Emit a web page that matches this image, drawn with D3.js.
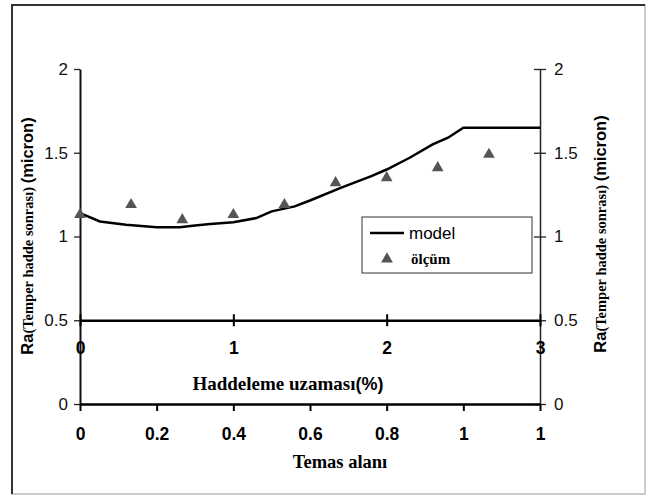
<!DOCTYPE html>
<html>
<head>
<meta charset="utf-8">
<script src="https://cdn.jsdelivr.net/npm/d3@7"></script>
<style>
  body { margin: 0; background: #fff; }
  svg { display: block; }
</style>
</head>
<body>
<div id="grafico"></div>
<script>
// model curve, x in Haddeleme uzamasi (%)
const modelX = [0, 0.13, 0.3, 0.5, 0.65, 0.75, 0.85, 1.0, 1.15, 1.25, 1.4, 1.5, 1.7, 1.9, 2.0, 2.15, 2.3, 2.4, 2.5, 3.0]
const modelY = [1.14, 1.09, 1.07, 1.055, 1.055, 1.065, 1.075, 1.085, 1.11, 1.15, 1.18, 1.215, 1.29, 1.36, 1.40, 1.47, 1.55, 1.59, 1.65, 1.65]

// measurements
const olcumX = [0, 0.333, 0.667, 1, 1.333, 1.667, 2, 2.333, 2.667]
const olcumY = [1.13, 1.19, 1.10, 1.13, 1.19, 1.32, 1.35, 1.41, 1.49]

const yTicks = [0, 0.5, 1, 1.5, 2]
const yTickLabels = ["0", "0.5", "1", "1.5", "2"]
const hadTicks = [0, 1, 2, 3]
const temasTicks = [0, 0.2, 0.4, 0.6, 0.8, 1.0, 1.2]
const temasLabels = ["0", "0.2", "0.4", "0.6", "0.8", "1", "1"]

const width = 649, height = 496
const sans = "Liberation Sans, Arial, sans-serif"
const serif = "Liberation Serif, Times New Roman, serif"

const svg = d3.select("#grafico")
  .append("svg")
    .attr("width", width)
    .attr("height", height)

// cerceve
svg.append("rect")
  .attr("x", 12).attr("y", 5)
  .attr("width", 633).attr("height", 489)
  .attr("fill", "none")
  .attr("stroke", "#bbb")
  .attr("stroke-width", 1.5)
svg.append("path")
  .attr("d", "M12,494V5H645")
  .attr("fill", "none")
  .attr("stroke", "#333")
  .attr("stroke-width", 2)

// olcekler
const y = d3.scaleLinear().domain([0, 2]).range([404, 69])
const xH = d3.scaleLinear().domain([0, 3]).range([80, 540])
const xT = d3.scaleLinear().domain([0, 1.2]).range([80, 540])

// sol eksen
const yLeft = svg.append("g")
  .attr("transform", "translate(80,0)")
  .call(d3.axisLeft(y).tickValues(yTicks).tickFormat((d, i) => yTickLabels[i]).tickSize(6).tickSizeOuter(0).tickPadding(6))
yLeft.select(".domain").attr("stroke", "#111").attr("stroke-width", 2)

// sag eksen
const yRight = svg.append("g")
  .attr("transform", "translate(540,0)")
  .call(d3.axisRight(y).tickValues(yTicks).tickFormat((d, i) => yTickLabels[i]).tickSize(6).tickSizeOuter(0).tickPadding(8))
yRight.select(".domain").attr("stroke", "#222").attr("stroke-width", 1.5)
yRight.selectAll(".tick line").attr("x1", -6)

svg.selectAll(".tick text")
  .attr("font-family", sans)
  .attr("font-size", "17px")
  .attr("fill", "#111")
svg.selectAll(".tick line").attr("stroke", "#222").attr("stroke-width", 1.3)

// Haddeleme ekseni (0.5 seviyesinde)
const xHad = svg.append("g")
  .attr("transform", `translate(0,${y(0.5)})`)
  .call(d3.axisBottom(xH).tickValues(hadTicks).tickFormat(d3.format("d")).tickSize(6).tickSizeOuter(0).tickPadding(15))
xHad.select(".domain").attr("stroke", "#000").attr("stroke-width", 2.5)
xHad.selectAll(".tick line").attr("y1", -6).attr("stroke", "#000").attr("stroke-width", 2)
xHad.selectAll(".tick text")
  .attr("font-family", sans)
  .attr("font-weight", "bold")
  .attr("font-size", "17.5px")
  .attr("fill", "#000")

// Temas ekseni
const xTem = svg.append("g")
  .attr("transform", `translate(0,${y(0)})`)
  .call(d3.axisBottom(xT).tickValues(temasTicks).tickFormat((d, i) => temasLabels[i]).tickSize(7).tickSizeOuter(0).tickPadding(17))
xTem.select(".domain").attr("stroke", "#000").attr("stroke-width", 2.5)
xTem.selectAll(".tick line").attr("stroke", "#000").attr("stroke-width", 2)
xTem.selectAll(".tick text")
  .attr("font-family", sans)
  .attr("font-weight", "bold")
  .attr("font-size", "17.5px")
  .attr("fill", "#000")

// eksen basliklari
const hadTitle = svg.append("text")
  .attr("x", 288).attr("y", 390)
  .attr("text-anchor", "middle")
  .attr("font-weight", "bold")
  .attr("font-size", "19px")
hadTitle.append("tspan").attr("font-family", serif).text("Haddeleme uzaması")
hadTitle.append("tspan").attr("font-family", sans).attr("font-size", "18px").text("(%)")

svg.append("text")
  .attr("x", 340).attr("y", 468)
  .attr("text-anchor", "middle")
  .attr("font-family", serif)
  .attr("font-weight", "bold")
  .attr("font-size", "18.5px")
  .text("Temas alanı")

function yTitle(cx, cy) {
  const t = svg.append("text")
    .attr("transform", `translate(${cx},${cy}) rotate(-90)`)
    .attr("text-anchor", "middle")
    .attr("font-weight", "bold")
  t.append("tspan").attr("font-family", sans).attr("font-size", "16.5px").text("Ra")
  t.append("tspan").attr("font-family", serif).attr("font-size", "14.5px").text("(Temper hadde sonrası) ")
  t.append("tspan").attr("font-family", sans).attr("font-size", "16.5px").text("(micron)")
}
yTitle(33, 236)
yTitle(606, 234)

// model cizgisi
const modelData = modelX.map((d, i) => ({x: d, y: modelY[i]}))
svg.append("path")
  .datum(modelData)
  .attr("fill", "none")
  .attr("stroke", "#000")
  .attr("stroke-width", 2.5)
  .attr("d", d3.line().x(d => xH(d.x)).y(d => y(d.y)))

// olcum noktalari
const tri = d3.symbol().type(d3.symbolTriangle).size(60)
svg.selectAll(".olcum")
  .data(olcumX.map((d, i) => ({x: d, y: olcumY[i]})))
  .join("path")
    .attr("class", "olcum")
    .attr("transform", d => `translate(${xH(d.x)},${y(d.y)})`)
    .attr("d", tri)
    .attr("fill", "#555")

// lejant
const leg = svg.append("g")
leg.append("rect")
  .attr("x", 362).attr("y", 217)
  .attr("width", 170).attr("height", 56)
  .attr("fill", "#fff")
  .attr("stroke", "#333")
  .attr("stroke-width", 1)
leg.append("line")
  .attr("x1", 370).attr("x2", 404)
  .attr("y1", 233).attr("y2", 233)
  .attr("stroke", "#000").attr("stroke-width", 2.5)
leg.append("text")
  .attr("x", 409).attr("y", 239)
  .attr("font-family", sans)
  .attr("font-size", "17px")
  .text("model")
leg.append("path")
  .attr("transform", "translate(387,259)")
  .attr("d", tri)
  .attr("fill", "#555")
leg.append("text")
  .attr("x", 411).attr("y", 264)
  .attr("font-family", serif)
  .attr("font-weight", "bold")
  .attr("font-size", "15px")
  .text("ölçüm")
</script>
</body>
</html>
